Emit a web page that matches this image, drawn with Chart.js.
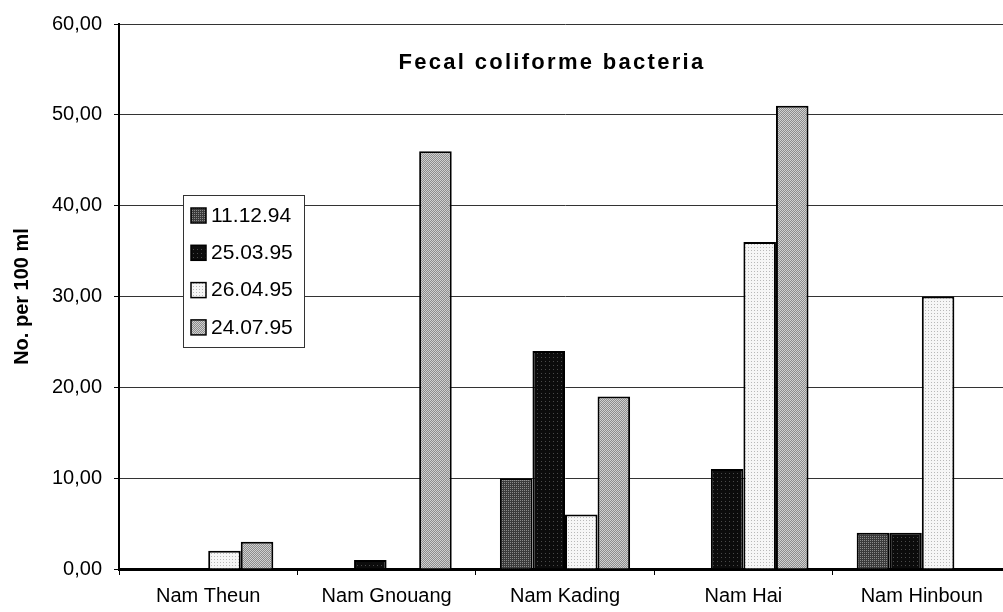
<!DOCTYPE html>
<html>
<head>
<meta charset="utf-8">
<script src="https://cdn.jsdelivr.net/npm/chart.js@4/dist/chart.umd.min.js"></script>
<style>
  body { margin: 0; background: #fff; overflow: hidden; }
  #wrap { width: 1011px; height: 612px; }
</style>
</head>
<body>
<div id="wrap"><canvas id="chart" width="1011" height="612"></canvas></div>
<script>
// data
const rivers = ['Nam Theun', 'Nam Gnouang', 'Nam Kading', 'Nam Hai', 'Nam Hinboun'];
const sampleDates = ['11.12.94', '25.03.95', '26.04.95', '24.07.95'];
const dec94 = [0, 0, 10, 0, 4];
const mar95 = [0, 1, 24, 11, 4];
const apr95 = [2, 0, 6, 36, 30];
const jul95 = [3, 46, 19, 51, 0];
const yTicks = [0, 10, 20, 30, 40, 50, 60];

// small tiles to get the halftone look of the print
function tile(size, base, dot, dots) {
  const c = document.createElement('canvas');
  c.width = c.height = size;
  const g = c.getContext('2d');
  g.fillStyle = base;
  g.fillRect(0, 0, size, size);
  g.fillStyle = dot;
  dots.forEach(p => g.fillRect(p[0], p[1], 1, 1));
  return g.createPattern(c, 'repeat');
}
const ctx = document.getElementById('chart').getContext('2d');
const fills = [
  tile(2, '#3a3a3a', '#8a8a8a', [[0, 0]]),
  tile(4, '#0c0c0c', '#4a4a4a', [[1, 1]]),
  tile(3, '#f6f6f6', '#b8b8b8', [[1, 1]]),
  tile(2, '#8c8c8c', '#d0d0d0', [[0, 0], [1, 1]])
];
const series = [dec94, mar95, apr95, jul95];
const FONT = '"Liberation Sans", Arial, sans-serif';

const titlePlugin = {
  id: 'insideTitle',
  afterDraw(chart) {
    const c = chart.ctx, a = chart.chartArea;
    c.save();
    c.font = 'bold 22px ' + FONT;
    c.letterSpacing = '2.3px';
    c.fillStyle = '#000';
    c.textAlign = 'center';
    c.textBaseline = 'middle';
    c.fillText('Fecal coliforme bacteria', a.left + 433, a.top + 39);
    c.restore();
  }
};

const legendPlugin = {
  id: 'boxLegend',
  afterDraw(chart) {
    const c = chart.ctx, a = chart.chartArea;
    const x = a.left + 64, y = a.top + 171;
    c.save();
    c.fillStyle = '#fff';
    c.fillRect(x, y, 121, 152);
    c.strokeStyle = '#333';
    c.lineWidth = 1;
    c.strokeRect(x + 0.5, y + 0.5, 121, 152);
    c.font = '21px ' + FONT;
    c.textBaseline = 'middle';
    chart.data.datasets.forEach((ds, i) => {
      const cy = y + 20 + i * 37.3;
      c.fillStyle = ds.backgroundColor;
      c.fillRect(x + 8, cy - 7, 15, 15);
      c.strokeStyle = '#000';
      c.lineWidth = 1.5;
      c.strokeRect(x + 8, cy - 7, 15, 15);
      c.fillStyle = '#000';
      c.fillText(ds.label, x + 28, cy + 1);
    });
    c.restore();
  }
};

new Chart(ctx, {
  type: 'bar',
  data: {
    labels: rivers,
    datasets: sampleDates.map((d, i) => ({
      label: d,
      data: series[i],
      backgroundColor: fills[i],
      borderColor: '#000',
      borderWidth: 2,
      borderSkipped: 'start'
    }))
  },
  options: {
    responsive: false,
    animation: false,
    layout: { padding: { top: 21, right: 0, left: 0, bottom: 0 } },
    datasets: { bar: { barPercentage: 1, categoryPercentage: 0.73 } },
    plugins: { legend: { display: false }, title: { display: false }, tooltip: { enabled: false } },
    scales: {
      x: {
        afterFit: s => { s.height = 43; },
        grid: { offset: true, drawOnChartArea: false, drawTicks: true, tickLength: 6, tickColor: '#000', lineWidth: 1 },
        border: { color: '#000', width: 3 },
        ticks: { color: '#000', padding: 9, font: { size: 20, family: FONT } }
      },
      y: {
        min: 0,
        max: 60,
        afterFit: s => { s.width = 119; },
        afterBuildTicks: s => { s.ticks = yTicks.map(v => ({ value: v })); },
        grid: { color: '#333', lineWidth: 1, tickLength: 5, tickColor: '#000' },
        border: { color: '#000', width: 2 },
        ticks: {
          color: '#000',
          padding: 12,
          font: { size: 20, family: FONT },
          callback: v => v.toFixed(2).replace('.', ',')
        },
        title: {
          display: true,
          text: 'No. per 100 ml',
          color: '#000',
          padding: { top: 10, bottom: 0 },
          font: { size: 20, weight: 'bold', family: FONT }
        }
      }
    }
  },
  plugins: [titlePlugin, legendPlugin]
});
</script>
</body>
</html>
